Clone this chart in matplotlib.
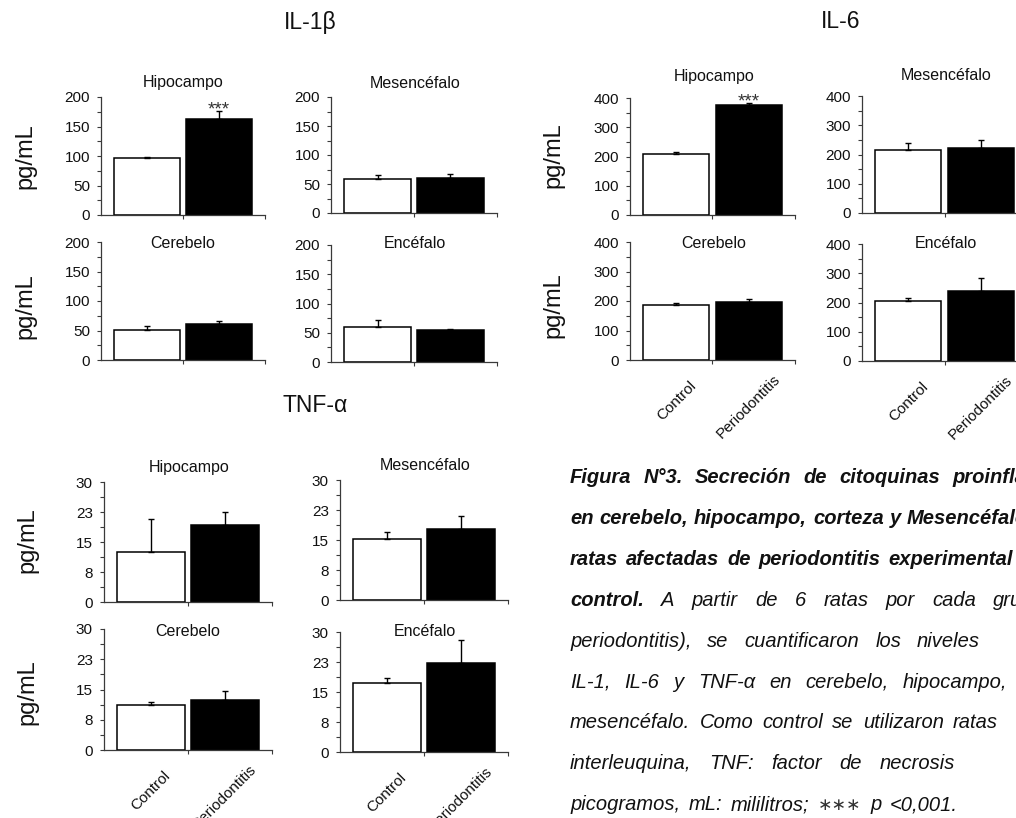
import matplotlib
matplotlib.use('Agg')
import matplotlib.pyplot as plt
from matplotlib.transforms import ScaledTranslation

plt.rcParams['font.family'] = ['Liberation Sans', 'DejaVu Sans']

# ---DATA---
groups = ['IL-1β', 'IL-6', 'TNF-α']
regions = ['Hipocampo', 'Mesencéfalo', 'Cerebelo', 'Encéfalo']
conditions = ['Control', 'Periodontitis']

il1b_control = [97, 59, 51, 60]
il1b_control_err = [2, 7, 7, 11]
il1b_perio = [163, 60, 61, 55]
il1b_perio_err = [14, 7, 5, 2]

il6_control = [209, 215, 186, 204]
il6_control_err = [8, 24, 8, 10]
il6_perio = [377, 222, 196, 240]
il6_perio_err = [5, 28, 12, 45]

tnf_control = [12.4, 15.25, 11.1, 17.25]
tnf_control_err = [8.4, 1.7, 0.7, 1.25]
tnf_perio = [19.3, 17.8, 12.4, 22.25]
tnf_perio_err = [3.2, 3.2, 2.3, 5.8]

# significance marks (group, region) -> text
significance = {('IL-1β', 'Hipocampo'): '***', ('IL-6', 'Hipocampo'): '***'}

il1b_ticks = [0, 50, 100, 150, 200]
il1b_tick_labels = ['0', '50', '100', '150', '200']
il6_ticks = [0, 100, 200, 300, 400]
il6_tick_labels = ['0', '100', '200', '300', '400']
tnf_ticks = [0, 7.5, 15, 22.5, 30]
tnf_tick_labels = ['0', '8', '15', '23', '30']

# ---LAYOUT (pixels)---
W, H = 1016, 818
fig = plt.figure(figsize=(W / 100, H / 100), dpi=100)


def fx(x):
    return x / W


def fy(y):
    return 1 - y / H


def px_rect(x0, y0, x1, y1):
    return [x0 / W, 1 - y1 / H, (x1 - x0) / W, (y1 - y0) / H]


# axes boxes: left, top, right, bottom
axes_boxes = {
    'IL-1β': [(101, 97, 265, 215), (331, 97, 497, 213),
              (101, 242, 265, 360), (331, 245, 497, 362)],
    'IL-6': [(630, 98, 795, 215), (862, 96, 1027, 213),
             (630, 242, 795, 360), (862, 244, 1027, 361)],
    'TNF-α': [(104, 482, 272, 602), (340, 480, 508, 600),
              (104, 629, 272, 750), (340, 632, 508, 752)],
}
panel_title_pos = {
    'IL-1β': [(183, 83), (415, 83), (183, 243), (415, 243)],
    'IL-6': [(714, 76), (946, 76), (714, 243), (946, 243)],
    'TNF-α': [(189, 467), (425, 466), (188, 631), (425, 631)],
}
group_title_pos = {'IL-1β': (310, 22), 'IL-6': (841, 22), 'TNF-α': (315, 405)}
ylabel_pos = {'IL-1β': [(25, 156), (25, 306)],
              'IL-6': [(553, 155), (553, 305)],
              'TNF-α': [(27, 540), (27, 692)]}

AXIS_COLOR = '#3a3a3a'
TEXT_COLOR = '#111111'
HALF = 1.14


def draw_panel(box, ctrl, ctrl_err, perio, perio_err, ticks, tick_labels,
               show_x, sig=None):
    ax = fig.add_axes(px_rect(*box))
    x = [0, 1]
    ax.bar(x, [ctrl, perio], width=0.915, color=['white', 'black'],
           edgecolor='black', linewidth=1.1, zorder=2)
    ax.errorbar(x, [ctrl, perio], yerr=[[0, 0], [ctrl_err, perio_err]],
                fmt='none', ecolor='black', elinewidth=1.0, capsize=2.2,
                capthick=1.0, zorder=3, clip_on=False)
    ax.set_xlim(0.5 - HALF, 0.5 + HALF)
    ax.set_ylim(0, ticks[-1])

    for s in ['top', 'right']:
        ax.spines[s].set_visible(False)
    for s in ['left', 'bottom']:
        ax.spines[s].set_color(AXIS_COLOR)
        ax.spines[s].set_linewidth(0.9)

    ax.set_yticks(ticks)
    ax.set_yticklabels(tick_labels)
    minor = [(a + b) / 2 for a, b in zip(ticks[:-1], ticks[1:])]
    ax.set_yticks(minor, minor=True)
    ax.tick_params(axis='y', which='both', direction='out', length=3,
                   width=0.8, color=AXIS_COLOR, labelsize=11, pad=5,
                   labelcolor=TEXT_COLOR)

    ax.set_xticks(x)
    ax.set_xticks([0.5, 0.5 + HALF], minor=True)
    ax.tick_params(axis='x', which='minor', direction='out', length=3,
                   width=0.8, color=AXIS_COLOR)
    ax.tick_params(axis='x', which='major', length=0, pad=8.5)
    if show_x:
        labels = ax.set_xticklabels(conditions, rotation=45, ha='center',
                                    va='top', fontsize=11, color=TEXT_COLOR)
        labels[0].set_transform(labels[0].get_transform() +
                                ScaledTranslation(0, -0.07, fig.dpi_scale_trans))
    else:
        ax.set_xticklabels([])

    if sig:
        ax.annotate(sig, (1, perio + perio_err), xytext=(0, -2.5),
                    textcoords='offset points', ha='center', va='baseline',
                    fontsize=13.5, color='#333333')
    ax.set_facecolor('none')
    return ax


data = {
    'IL-1β': (il1b_control, il1b_control_err, il1b_perio, il1b_perio_err,
              il1b_ticks, il1b_tick_labels, False),
    'IL-6': (il6_control, il6_control_err, il6_perio, il6_perio_err,
             il6_ticks, il6_tick_labels, True),
    'TNF-α': (tnf_control, tnf_control_err, tnf_perio, tnf_perio_err,
              tnf_ticks, tnf_tick_labels, True),
}

for g in groups:
    c, ce, p, pe, ticks, tlabels, xlab = data[g]
    for i, reg in enumerate(regions):
        draw_panel(axes_boxes[g][i], c[i], ce[i], p[i], pe[i], ticks, tlabels,
                   show_x=(xlab and i >= 2), sig=significance.get((g, reg)))
        tx, ty = panel_title_pos[g][i]
        fig.text(fx(tx), fy(ty), reg, ha='center', va='center', fontsize=11.5,
                 color=TEXT_COLOR)
    gx, gy = group_title_pos[g]
    fig.text(fx(gx), fy(gy), g, ha='center', va='center', fontsize=16.5,
             color=TEXT_COLOR)
    for lx, ly in ylabel_pos[g]:
        fig.text(fx(lx), fy(ly), 'pg/mL', ha='center', va='center',
                 rotation=90, fontsize=17, color=TEXT_COLOR)

# ---CAPTION (justified paragraph, cut at the right edge)---
# each line: words with style, and x where the last word starts
caption = [
    ([('Figura', 'b'), ('N°3.', 'b'), ('Secreción', 'b'), ('de', 'b'),
      ('citoquinas', 'b'), ('proinflamatorias', 'b')], 952),
    ([('en', 'b'), ('cerebelo,', 'b'), ('hipocampo,', 'b'), ('corteza', 'b'),
      ('y', 'b'), ('Mesencéfalo', 'b')], 907),
    ([('ratas', 'b'), ('afectadas', 'b'), ('de', 'b'), ('periodontitis', 'b'),
      ('experimental', 'b')], 888),
    ([('control.', 'b'), ('A', 'i'), ('partir', 'i'), ('de', 'i'), ('6', 'i'),
      ('ratas', 'i'), ('por', 'i'), ('cada', 'i'), ('grupo', 'i')], 993),
    ([('periodontitis),', 'i'), ('se', 'i'), ('cuantificaron', 'i'),
      ('los', 'i'), ('niveles', 'i')], 917),
    ([('IL-1,', 'i'), ('IL-6', 'i'), ('y', 'i'), ('TNF-α', 'i'), ('en', 'i'),
      ('cerebelo,', 'i'), ('hipocampo,', 'i')], 903),
    ([('mesencéfalo.', 'i'), ('Como', 'i'), ('control', 'i'), ('se', 'i'),
      ('utilizaron', 'i'), ('ratas', 'i')], 953),
    ([('interleuquina,', 'i'), ('TNF:', 'i'), ('factor', 'i'), ('de', 'i'),
      ('necrosis', 'i')], 880),
    ([('picogramos,', 'i'), ('mL:', 'i'), ('mililitros;', 'i'), ('∗∗∗', 's'),
      ('p', 'i'), ('<0,001.', 'i')], 890),
]
CAP_X = 570
renderer = fig.canvas.get_renderer()
for li, (words, last_x) in enumerate(caption):
    base = 483 + 40.9 * li
    items = []
    for word, st in words:
        kw = dict(ha='left', va='baseline', style='italic', color=TEXT_COLOR,
                  fontsize=14.5)
        if st == 'b':
            kw['fontweight'] = 'bold'
        if st == 's':
            kw['fontsize'] = 12.5
            kw['style'] = 'normal'
            kw['color'] = '#333333'
        t = fig.text(fx(CAP_X), fy(base), word, **kw)
        items.append(t)
    widths = [t.get_window_extent(renderer).width for t in items]
    gap = (last_x - CAP_X - sum(widths[:-1])) / (len(items) - 1)
    xpos = CAP_X
    for t, w in zip(items, widths):
        t.set_x(fx(xpos))
        xpos += w + gap

fig.savefig('out.png', dpi=100)
